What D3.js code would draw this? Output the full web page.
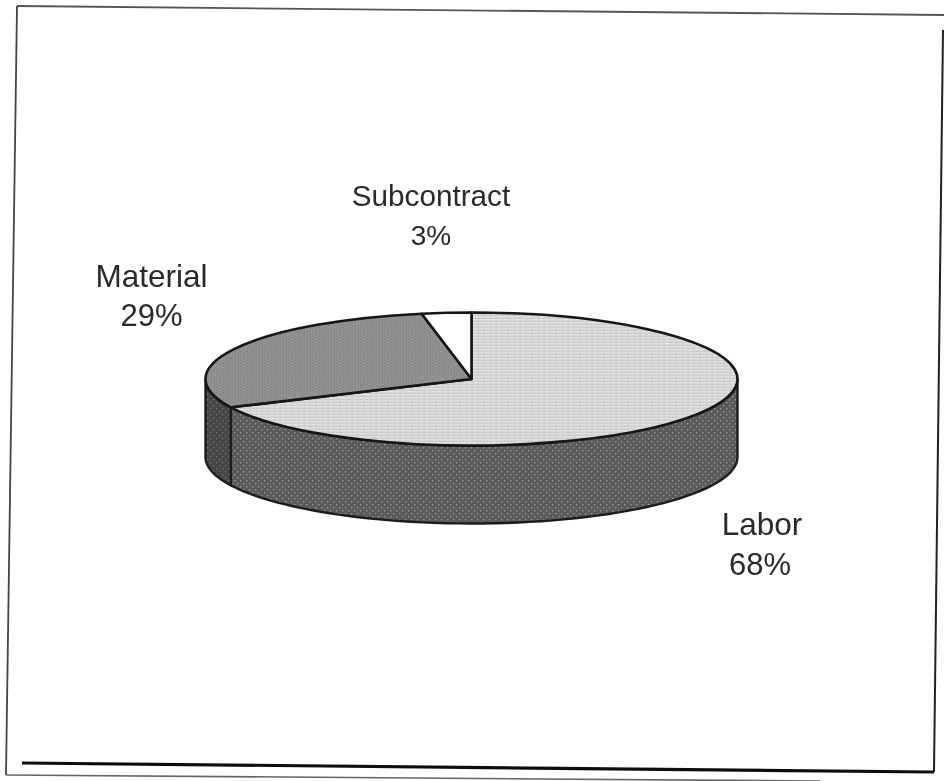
<!DOCTYPE html>
<html>
<head>
<meta charset="utf-8">
<script src="https://cdn.jsdelivr.net/npm/d3@7/dist/d3.min.js"></script>
<style>
html,body{margin:0;padding:0;background:#fff}
svg{display:block}
text{font-family:"Liberation Sans",Arial,sans-serif;fill:#2a2a2a}
</style>
</head>
<body>
<script>
const categories = ["Labor","Material","Subcontract"];
const shares = [68,29,3];
const percentLabels = ["68%","29%","3%"];

const W=944,H=781;
const svg=d3.select("body").append("svg").attr("width",W).attr("height",H);
const defs=svg.append("defs");
defs.append("filter").attr("id","scan").attr("x","-5%").attr("y","-5%").attr("width","110%").attr("height","110%")
  .append("feGaussianBlur").attr("stdDeviation",0.35);

function halftone(id,bg,dot,line,gap){
  const p=defs.append("pattern").attr("id",id).attr("patternUnits","userSpaceOnUse").attr("width",gap*2).attr("height",gap*2);
  p.append("rect").attr("width",gap*2).attr("height",gap*2).attr("fill",bg);
  if(line){p.append("rect").attr("y",gap).attr("width",gap*2).attr("height",1).attr("fill",line);}
  p.append("rect").attr("x",0).attr("y",0).attr("width",1.4).attr("height",1.4).attr("fill",dot);
  p.append("rect").attr("x",gap).attr("y",gap).attr("width",1.4).attr("height",1.4).attr("fill",dot);
}
halftone("topLight","#ececec","#a8a8a8","#8c8c8c",3);
halftone("topDark","#969696","#4e4e4e",null,3);
halftone("sideMid","#5a5a5a","#989898",null,3);
halftone("sideDark","#444444","#707070",null,3);

const page=svg.append("g").attr("filter","url(#scan)");

// plot frame (scanned page, slightly skewed)
const thin=(pts,w,c)=>page.append("path").attr("d",d3.line()(pts)).attr("fill","none").attr("stroke",c).attr("stroke-width",w);
thin([[17,6],[944,15]],1.8,"#555");
thin([[17,6],[6,775]],1.8,"#444");
thin([[943,30],[934,772]],2,"#222");
thin([[6,775],[820,781]],1.6,"#666");
thin([[22,763],[934,772]],3.2,"#111");

// pie geometry
const cx=471.5,cy=379,rx=266,ry=66.5,depth=78;
const pie=d3.pie().sort(null).value(d=>d.v).startAngle(0).endAngle(2*Math.PI);
const arcs=pie(categories.map((c,i)=>({c,v:shares[i]})));
const fills=["url(#topLight)","url(#topDark)","#ffffff"];
const px=a=>cx+rx*Math.sin(a), py=a=>cy-ry*Math.cos(a);

// visible wall: lower half of the rim, split at the slice boundary
function wall(a0,a1){
  const pts=d3.range(0,61).map(i=>a0+(a1-a0)*i/60);
  const upper=pts.map(a=>[px(a),py(a)]);
  const lower=pts.slice().reverse().map(a=>[px(a),py(a)+depth]);
  return d3.line()(upper.concat(lower))+"Z";
}
const boundary=arcs[0].endAngle;
const g=page.append("g");
g.append("path").attr("d",wall(Math.PI/2,boundary)).attr("fill","url(#sideMid)").attr("stroke","#1c1c1c").attr("stroke-width",2.4);
g.append("path").attr("d",wall(boundary,Math.PI*1.5)).attr("fill","url(#sideDark)").attr("stroke","#1c1c1c").attr("stroke-width",2.4);

// top face
const arc=d3.arc().innerRadius(0).outerRadius(rx);
g.append("g").attr("transform",`translate(${cx},${cy}) scale(1,${ry/rx})`)
 .selectAll("path").data(arcs).join("path")
 .attr("d",arc).attr("fill",(d,i)=>fills[i])
 .attr("stroke","#161616").attr("stroke-width",2.6).attr("vector-effect","non-scaling-stroke").attr("stroke-linejoin","round");

// labels: x, name baseline, percent baseline, name size, percent size
const labelPos=[[762,535,575,31.5,31],[151.5,287,326,31.5,31],[431,206,245,29.7,28]];
const lab=page.append("g").attr("text-anchor","middle");
categories.forEach((c,i)=>{
  lab.append("text").attr("x",labelPos[i][0]).attr("y",labelPos[i][1]).attr("font-size",labelPos[i][3]).text(c);
  lab.append("text").attr("x",labelPos[i][0]-(i===0?2:0)).attr("y",labelPos[i][2]).attr("font-size",labelPos[i][4]).text(percentLabels[i]);
});
</script>
</body>
</html>
